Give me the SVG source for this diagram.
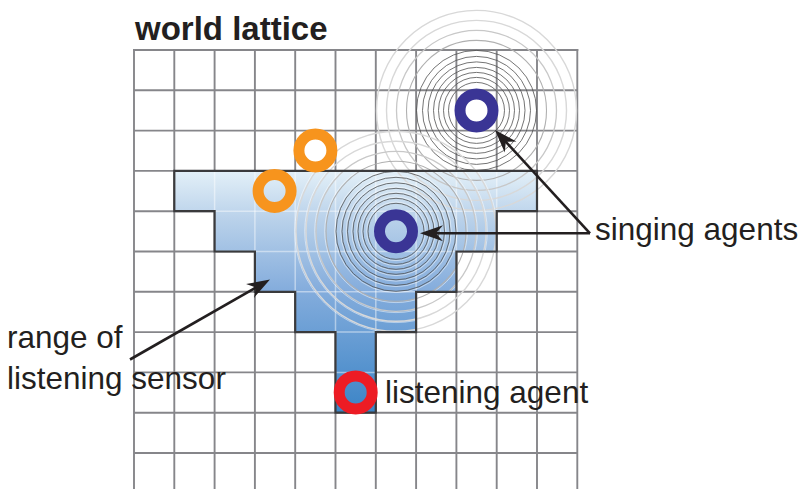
<svg xmlns="http://www.w3.org/2000/svg" width="803" height="489" viewBox="0 0 803 489">
<style>
.grid line{stroke:#86868a;stroke-width:1.9}
.gridin line{stroke:#ffffff;stroke-opacity:0.45;stroke-width:1.5}
.dk{fill:none;stroke:#505050;stroke-width:0.8}
.hl{fill:none;stroke:#ffffff;stroke-width:0.7;stroke-opacity:0.7}
.lt1{fill:none;stroke:#b0b0b0;stroke-width:1.1}
.lt2{fill:none;stroke:#c8c8c8;stroke-width:1.3}
.lt3{fill:none;stroke:#d8d8d8;stroke-width:1.4}
.ring{fill:none;stroke-width:11}
.sing{stroke:#3a3595}
.orange{stroke:#f7941d}
.red{stroke:#ed1c24}
.arrow{fill:none;stroke:#231f20;stroke-width:2.6}
.lbl{font-family:"Liberation Sans",Arial,sans-serif;fill:#231f20;font-size:31.5px}
.title{font-family:"Liberation Sans",Arial,sans-serif;fill:#231f20;font-size:33px;font-weight:bold}
</style>
<defs>
<linearGradient id="blue" gradientUnits="userSpaceOnUse" x1="0" y1="171" x2="0" y2="412.7">
<stop offset="0" stop-color="#e3f0f8"/>
<stop offset="0.2" stop-color="#b9d1ea"/>
<stop offset="0.5" stop-color="#83acdc"/>
<stop offset="1" stop-color="#3b84c6"/>
</linearGradient>
<clipPath id="regionClip">
<polygon points="174.3,170.9 537,170.9 537,211.2 496.7,211.2 496.7,251.5 456.4,251.5 456.4,291.8 416.1,291.8 416.1,332.1 375.8,332.1 375.8,412.7 335.5,412.7 335.5,332.1 295.2,332.1 295.2,291.8 254.9,291.8 254.9,251.5 214.6,251.5 214.6,211.2 174.3,211.2"/>
</clipPath>
<marker id="head" markerUnits="userSpaceOnUse" orient="auto" overflow="visible" markerWidth="1" markerHeight="1" refX="0" refY="0">
<path d="M10,0 L-13,-8 L-6,0 L-13,8 Z" fill="#231f20"/>
</marker>
</defs>
<rect width="803" height="489" fill="#ffffff"/>

<g id="grid" class="grid">
<line x1="134" y1="49" x2="134" y2="489"/>
<line x1="174.3" y1="50" x2="174.3" y2="489"/>
<line x1="214.6" y1="50" x2="214.6" y2="489"/>
<line x1="254.9" y1="50" x2="254.9" y2="489"/>
<line x1="295.2" y1="50" x2="295.2" y2="489"/>
<line x1="335.5" y1="50" x2="335.5" y2="489"/>
<line x1="375.8" y1="50" x2="375.8" y2="489"/>
<line x1="416.1" y1="50" x2="416.1" y2="489"/>
<line x1="456.4" y1="50" x2="456.4" y2="489"/>
<line x1="496.7" y1="50" x2="496.7" y2="489"/>
<line x1="537" y1="50" x2="537" y2="489"/>
<line x1="577.3" y1="49" x2="577.3" y2="489"/>
<line x1="133" y1="50" x2="578.3" y2="50"/>
<line x1="134" y1="90.3" x2="577.3" y2="90.3"/>
<line x1="134" y1="130.6" x2="577.3" y2="130.6"/>
<line x1="134" y1="170.9" x2="577.3" y2="170.9"/>
<line x1="134" y1="211.2" x2="577.3" y2="211.2"/>
<line x1="134" y1="251.5" x2="577.3" y2="251.5"/>
<line x1="134" y1="291.8" x2="577.3" y2="291.8"/>
<line x1="134" y1="332.1" x2="577.3" y2="332.1"/>
<line x1="134" y1="372.4" x2="577.3" y2="372.4"/>
<line x1="134" y1="412.7" x2="577.3" y2="412.7"/>
<line x1="134" y1="453" x2="577.3" y2="453"/>
</g>

<g id="range">
<polygon points="174.3,170.9 537,170.9 537,211.2 496.7,211.2 496.7,251.5 456.4,251.5 456.4,291.8 416.1,291.8 416.1,332.1 375.8,332.1 375.8,412.7 335.5,412.7 335.5,332.1 295.2,332.1 295.2,291.8 254.9,291.8 254.9,251.5 214.6,251.5 214.6,211.2 174.3,211.2" fill="url(#blue)"/>
<g class="gridin" clip-path="url(#regionClip)">
<line x1="214.6" y1="170" x2="214.6" y2="414"/>
<line x1="254.9" y1="170" x2="254.9" y2="414"/>
<line x1="295.2" y1="170" x2="295.2" y2="414"/>
<line x1="335.5" y1="170" x2="335.5" y2="414"/>
<line x1="375.8" y1="170" x2="375.8" y2="414"/>
<line x1="416.1" y1="170" x2="416.1" y2="414"/>
<line x1="456.4" y1="170" x2="456.4" y2="414"/>
<line x1="496.7" y1="170" x2="496.7" y2="414"/>
<line x1="172" y1="211.2" x2="540" y2="211.2"/>
<line x1="172" y1="251.5" x2="540" y2="251.5"/>
<line x1="172" y1="291.8" x2="540" y2="291.8"/>
<line x1="172" y1="332.1" x2="540" y2="332.1"/>
<line x1="172" y1="372.4" x2="540" y2="372.4"/>
</g>
</g>

<g id="waves-top">
<circle class="lt3" cx="476.5" cy="110.4" r="100"/>
<circle class="lt3" cx="476.5" cy="110.4" r="90"/>
<circle class="lt2" cx="476.5" cy="110.4" r="80"/>
<circle class="lt1" cx="476.5" cy="110.4" r="70"/>
<circle class="dk" cx="476.5" cy="110.4" r="60"/>
<circle class="dk" cx="476.5" cy="110.4" r="54"/>
<circle class="dk" cx="476.5" cy="110.4" r="48.5"/>
<circle class="dk" cx="476.5" cy="110.4" r="43"/>
<circle class="dk" cx="476.5" cy="110.4" r="38"/>
<circle class="dk" cx="476.5" cy="110.4" r="33"/>
<circle class="dk" cx="476.5" cy="110.4" r="28"/>
</g>

<g id="waves-middle">
<circle class="lt3" cx="396" cy="231.3" r="100"/>
<circle class="lt3" cx="396" cy="231.3" r="90"/>
<circle class="lt2" cx="396" cy="231.3" r="80"/>
<circle class="lt1" cx="396" cy="231.3" r="70"/>
<g clip-path="url(#regionClip)">
<circle class="hl" cx="396" cy="231.3" r="101.3"/>
<circle class="hl" cx="396" cy="231.3" r="91.3"/>
<circle class="hl" cx="396" cy="231.3" r="81.3"/>
<circle class="hl" cx="396" cy="231.3" r="71.3"/>
<circle class="hl" cx="396" cy="231.3" r="61.3"/>
<circle class="hl" cx="396" cy="231.3" r="55.3"/>
<circle class="hl" cx="396" cy="231.3" r="49.8"/>
<circle class="hl" cx="396" cy="231.3" r="44.3"/>
<circle class="hl" cx="396" cy="231.3" r="39.3"/>
<circle class="hl" cx="396" cy="231.3" r="34.3"/>
<circle class="hl" cx="396" cy="231.3" r="29.3"/>
</g>
<circle class="dk" cx="396" cy="231.3" r="60"/>
<circle class="dk" cx="396" cy="231.3" r="54"/>
<circle class="dk" cx="396" cy="231.3" r="48.5"/>
<circle class="dk" cx="396" cy="231.3" r="43"/>
<circle class="dk" cx="396" cy="231.3" r="38"/>
<circle class="dk" cx="396" cy="231.3" r="33"/>
<circle class="dk" cx="396" cy="231.3" r="28"/>
</g>

<g id="range-outline">
<polygon points="174.3,170.9 537,170.9 537,211.2 496.7,211.2 496.7,251.5 456.4,251.5 456.4,291.8 416.1,291.8 416.1,332.1 375.8,332.1 375.8,412.7 335.5,412.7 335.5,332.1 295.2,332.1 295.2,291.8 254.9,291.8 254.9,251.5 214.6,251.5 214.6,211.2 174.3,211.2" fill="none" stroke="#3a3a3c" stroke-width="2.2"/>
</g>

<g id="singing-agent-1"><circle class="ring sing" cx="476.5" cy="110.4" r="16.5"/></g>
<g id="singing-agent-2"><circle class="ring sing" cx="396" cy="231.3" r="16.5"/></g>
<g id="orange-agent-1"><circle class="ring orange" cx="315.4" cy="150.5" r="16.5"/></g>
<g id="orange-agent-2"><circle class="ring orange" cx="274.6" cy="191" r="16.5"/></g>
<g id="listening-agent"><circle class="ring red" cx="355.7" cy="392.4" r="16.5"/></g>

<g id="connectors">
<path class="arrow" d="M590,233.3 L501.8,137.4" marker-end="url(#head)"/>
<path class="arrow" d="M590,233.3 L430,233.3" marker-end="url(#head)"/>
<path class="arrow" d="M130,359.5 L261.3,284.5" marker-end="url(#head)"/>
</g>

<g id="labels">
<text class="title" x="135" y="40">world lattice</text>
<text class="lbl" x="595" y="240">singing agents</text>
<text class="lbl" x="7" y="348">range of</text>
<text class="lbl" x="7" y="388.5">listening sensor</text>
<text class="lbl" x="385" y="403">listening agent</text>
</g>
</svg>
